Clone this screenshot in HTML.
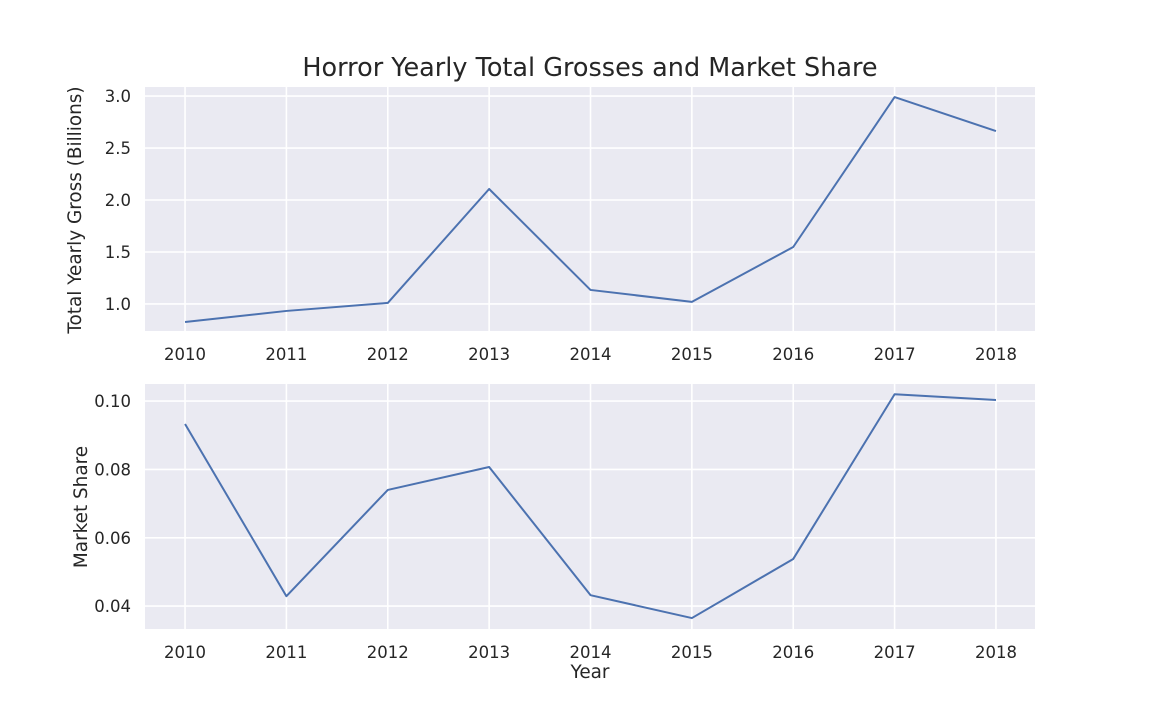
<!DOCTYPE html>
<html><head><meta charset="utf-8"><style>
html,body{margin:0;padding:0;background:#fff;}
svg{display:block;font-family:"DejaVu Sans","Liberation Sans",sans-serif;}
</style></head><body>
<svg id="chart" width="1152" height="720" viewBox="0 0 1152 720">
<text x="590" y="76" text-anchor="middle" font-size="25.5" fill="#262626">Horror Yearly Total Grosses and Market Share</text>
<g id="top"></g>
<g id="bot"></g>
<text transform="translate(81,210) rotate(-90)" text-anchor="middle" font-size="18.4" fill="#262626">Total Yearly Gross (Billions)</text>
<text transform="translate(87,507) rotate(-90)" text-anchor="middle" font-size="18.4" fill="#262626">Market Share</text>
<text x="590" y="678" text-anchor="middle" font-size="18.4" fill="#262626">Year</text>
</svg>
<script>
const years = [2010,2011,2012,2013,2014,2015,2016,2017,2018];
const gross = [0.827,0.933,1.01,2.106,1.135,1.02,1.548,2.99,2.663];
const share = [0.0933,0.0429,0.074,0.0807,0.0432,0.0365,0.0538,0.102,0.1003];
const grossTicks = [1.0,1.5,2.0,2.5,3.0];
const grossTickLabels = ["1.0","1.5","2.0","2.5","3.0"];
const shareTicks = [0.04,0.06,0.08,0.10];
const shareTickLabels = ["0.04","0.06","0.08","0.10"];

const NS="http://www.w3.org/2000/svg";
const X0=145,X1=1035, xmin=2009.605, xmax=2018.385;
const xs=v=>X0+(v-xmin)/(xmax-xmin)*(X1-X0);
function mk(tag,attrs,parent){const e=document.createElementNS(NS,tag);for(const k in attrs)e.setAttribute(k,attrs[k]);parent.appendChild(e);return e;}
function panel(g,top,bottom,ymin,ymax,ticks,labels,vals,name){
  const ys=v=>bottom-(v-ymin)/(ymax-ymin)*(bottom-top);
  const bg=mk('rect',{x:X0,y:top,width:X1-X0,height:bottom-top,fill:'#eaeaf2'},g);
  
  
  years.forEach(yr=>{
    const l=mk('line',{x1:xs(yr),x2:xs(yr),y1:top,y2:bottom,stroke:'#fff','stroke-width':1.6},g);
    
    
    const t=mk('text',{x:xs(yr),y:bottom+29,'text-anchor':'middle','font-size':16.5,fill:'#262626'},g);
    t.textContent=yr;
    
    
  });
  ticks.forEach((v,i)=>{
    const l=mk('line',{x1:X0,x2:X1,y1:ys(v),y2:ys(v),stroke:'#fff','stroke-width':1.6},g);
    
    
    const t=mk('text',{x:X0-14,y:ys(v)+6,'text-anchor':'end','font-size':16.5,fill:'#262626'},g);
    t.textContent=labels[i];
    
    
  });
  const p=mk('polyline',{points:vals.map((v,i)=>xs(years[i])+','+ys(v)).join(' '),fill:'none',stroke:'#4c72b0','stroke-width':2,'stroke-linejoin':'round'},g);
  
  
}
panel(document.getElementById('top'),87,331,0.74,3.087,grossTicks,grossTickLabels,gross,'gross');
panel(document.getElementById('bot'),384,629,0.0333,0.105,shareTicks,shareTickLabels,share,'share');
</script>
</body></html>
